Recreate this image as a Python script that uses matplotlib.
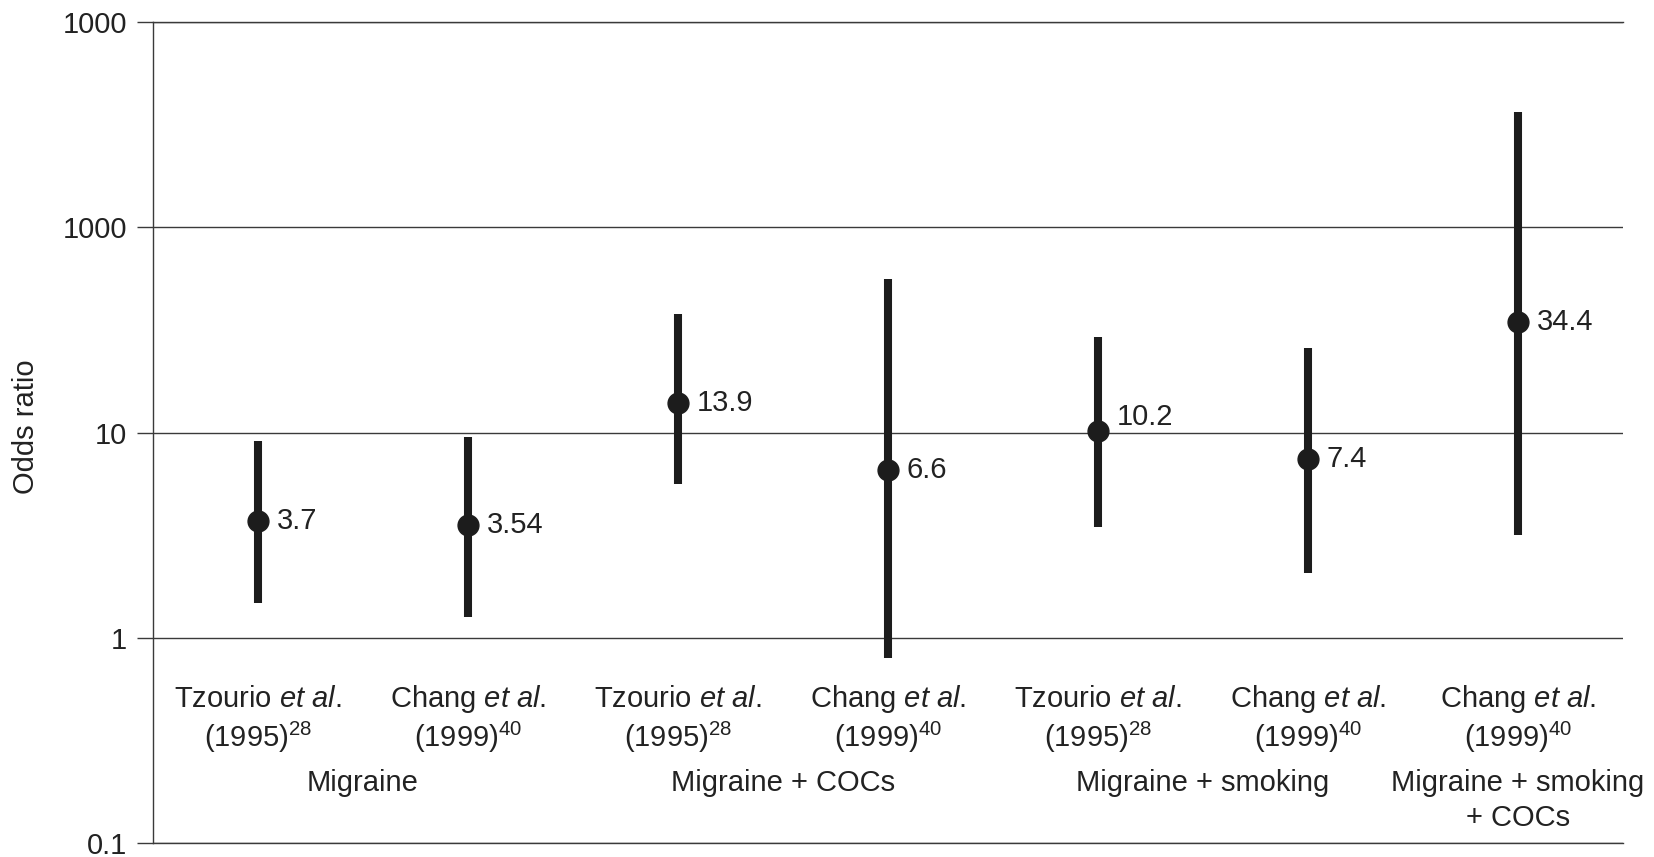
import matplotlib
matplotlib.use("Agg")
import matplotlib.pyplot as plt
from matplotlib.ticker import NullLocator, FixedLocator, FixedFormatter
import matplotlib.transforms as mtransforms

plt.rcParams['font.family'] = ['Liberation Sans', 'DejaVu Sans']
plt.rcParams['mathtext.fontset'] = 'custom'
plt.rcParams['mathtext.rm'] = 'Liberation Sans'
plt.rcParams['mathtext.it'] = 'Liberation Sans:italic'
plt.rcParams['mathtext.bf'] = 'Liberation Sans:bold'

# ---- data ----
authors = ["Tzourio", "Chang", "Tzourio", "Chang", "Tzourio", "Chang", "Chang"]
years = ["1995", "1999", "1995", "1999", "1995", "1999", "1999"]
refs = ["28", "40", "28", "40", "28", "40", "40"]
odds = [3.7, 3.54, 13.9, 6.6, 10.2, 7.4, 34.4]
ci_low = [1.48, 1.26, 5.6, 0.80, 3.48, 2.06, 3.17]
ci_high = [9.1, 9.5, 37.6, 55.7, 29.3, 25.9, 364.6]
value_labels = ["3.7", "3.54", "13.9", "6.6", "10.2", "7.4", "34.4"]
groups = ["Migraine", "Migraine + COCs", "Migraine + smoking", "Migraine + smoking\n+ COCs"]
group_members = [[0, 1], [2, 3], [4, 5], [6]]
ytick_values = [0.1, 1, 10, 100, 1000]
ytick_labels = ["0.1", "1", "10", "1000", "1000"]
y_label = "Odds ratio"

# ---- style ----
W, H = 1654, 857
ink = "#1c1c1c"
grid_col = "#3a3a3a"
txt_col = "#222222"
fs = 21

fig = plt.figure(figsize=(W / 100, H / 100), dpi=100)
ax = fig.add_axes([153 / W, 1 - 843.3 / H, 1470 / W, 821.6 / H])

x = list(range(len(odds)))
ax.set_yscale('log')
ax.set_ylim(ytick_values[0], ytick_values[-1])
ax.set_xlim(-0.5, len(odds) - 0.5)

ax.yaxis.set_major_locator(FixedLocator(ytick_values))
ax.yaxis.set_major_formatter(FixedFormatter(ytick_labels))
ax.yaxis.set_minor_locator(NullLocator())
ax.set_xticks([])
ax.yaxis.grid(True, color=grid_col, linewidth=1.0)
ax.set_axisbelow(True)
ax.tick_params(axis='y', which='major', length=11.5, width=1.0, color=grid_col,
               pad=7, labelsize=fs, labelcolor=txt_col)

for s in ['right']:
    ax.spines[s].set_visible(False)
for s in ['left', 'top', 'bottom']:
    ax.spines[s].set_color(grid_col)
    ax.spines[s].set_linewidth(1.0)

ax.set_ylabel(y_label, fontsize=fs, color=txt_col, va='center')
ax.yaxis.set_label_coords(-0.0864, 0.507)

# CI bars and points
ax.vlines(x, ci_low, ci_high, colors=ink, linewidth=5.8, capstyle='butt', zorder=3)
ax.plot(x, odds, 'o', ms=15, color=ink, zorder=4, linestyle='none')

label_dy = {4: 10}
for i, (xi, v, lab) in enumerate(zip(x, odds, value_labels)):
    ax.annotate(lab, (xi, v), xytext=(13.5, label_dy.get(i, 0)), textcoords='offset points',
                ha='left', va='center', fontsize=fs, color=txt_col)

# category labels
trans = mtransforms.blended_transform_factory(ax.transData, ax.transAxes)
for xi, a, yr, rf in zip(x, authors, years, refs):
    ax.text(xi, 0.1655, a + r" $\mathit{et\ al.}$", transform=trans, ha='center',
            va='baseline', fontsize=fs, color=txt_col)
    ax.text(xi, 0.1168, "(" + yr + ")$^{" + rf + "}$", transform=trans, ha='center',
            va='baseline', fontsize=fs, color=txt_col)

line_step = 0.043
for g, members in zip(groups, group_members):
    gx = sum(x[m] for m in members) / len(members)
    for k, line in enumerate(g.split("\n")):
        ax.text(gx, 0.064 - k * line_step, line, transform=trans, ha='center',
                va='baseline', fontsize=fs, color=txt_col)

fig.savefig("out.png", dpi=100)
